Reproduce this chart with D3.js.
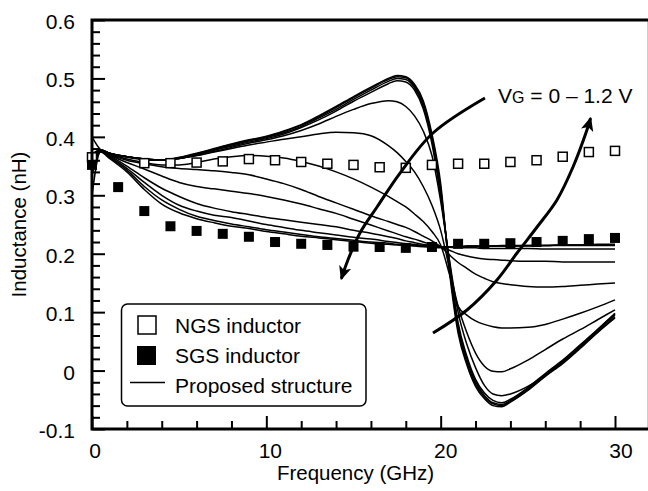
<!DOCTYPE html>
<html><head><meta charset="utf-8">
<script src="https://cdn.jsdelivr.net/npm/d3@7"></script>
<style>html,body{margin:0;padding:0;background:#fff}svg{display:block}text{font-family:Arial,"Liberation Sans",Helvetica,sans-serif;fill:#000}</style>
</head><body>
<svg id="c" width="648" height="491"></svg>
<script>
// ---------- data ----------
const ngsFreq = [0,3,4.5,6,7.5,9,10.5,12,13.5,15,16.5,18,19.5,21,22.5,24,25.5,27,28.5,30];
const ngs = [0.365,0.355,0.355,0.356,0.358,0.362,0.360,0.357,0.354,0.352,0.348,0.347,0.352,0.354,0.354,0.357,0.360,0.366,0.374,0.376];
const sgsFreq = [0,1.5,3,4.5,6,7.5,9,10.5,12,13.5,15,16.5,18,19.5,21,22.5,24,25.5,27,28.5,30];
const sgs = [0.352,0.314,0.273,0.247,0.239,0.234,0.229,0.220,0.217,0.215,0.212,0.2115,0.210,0.2115,0.217,0.217,0.218,0.220,0.222,0.225,0.227];

const freq = [0,0.5,1,2,3,4,5,6,7,8,9,10,11,12,13,14,15,16,17,17.5,18,18.5,19,19.5,20,20.5,21,21.5,22,22.5,23,23.5,24,25,26,27,28,29,30];
// Proposed structure, VG = 0 ... 1.2 V
const vg00 = [0.400,0.378,0.372,0.366,0.362,0.360,0.365,0.372,0.380,0.388,0.395,0.401,0.410,0.421,0.436,0.452,0.469,0.485,0.500,0.505,0.503,0.490,0.462,0.405,0.320,0.170,0.064,0.010,-0.027,-0.048,-0.060,-0.062,-0.054,-0.034,-0.010,0.012,0.038,0.065,0.090];
const vg01 = [0.370,0.378,0.372,0.366,0.362,0.360,0.364,0.371,0.379,0.387,0.394,0.400,0.409,0.420,0.434,0.450,0.467,0.483,0.498,0.503,0.501,0.487,0.458,0.400,0.312,0.176,0.070,0.015,-0.023,-0.045,-0.057,-0.060,-0.053,-0.033,-0.009,0.014,0.040,0.066,0.092];
const vg02 = [0.355,0.377,0.372,0.366,0.362,0.360,0.364,0.370,0.378,0.386,0.393,0.399,0.407,0.418,0.432,0.447,0.464,0.480,0.495,0.500,0.498,0.484,0.453,0.394,0.305,0.182,0.076,0.020,-0.019,-0.042,-0.055,-0.058,-0.051,-0.031,-0.007,0.016,0.042,0.068,0.095];
const vg03 = [0.300,0.376,0.372,0.366,0.362,0.360,0.363,0.369,0.377,0.384,0.391,0.397,0.405,0.416,0.429,0.444,0.461,0.476,0.491,0.496,0.494,0.480,0.448,0.388,0.298,0.188,0.082,0.025,-0.015,-0.038,-0.051,-0.055,-0.049,-0.029,-0.005,0.018,0.044,0.070,0.097];
const vg04 = [0.360,0.377,0.372,0.366,0.362,0.360,0.363,0.368,0.375,0.382,0.389,0.395,0.402,0.411,0.422,0.435,0.447,0.457,0.462,0.460,0.452,0.436,0.410,0.368,0.290,0.190,0.100,0.045,0.005,-0.025,-0.040,-0.043,-0.040,-0.027,-0.008,0.016,0.042,0.070,0.098];
const vg05 = [0.370,0.378,0.372,0.365,0.361,0.360,0.363,0.368,0.374,0.380,0.386,0.391,0.396,0.400,0.405,0.408,0.407,0.402,0.385,0.373,0.358,0.340,0.315,0.283,0.240,0.175,0.110,0.065,0.030,0.008,-0.001,-0.002,0.003,0.018,0.036,0.054,0.070,0.087,0.104];
const vg06 = [0.365,0.377,0.371,0.362,0.356,0.352,0.352,0.356,0.362,0.366,0.368,0.367,0.364,0.358,0.350,0.340,0.328,0.314,0.298,0.289,0.280,0.268,0.255,0.238,0.215,0.165,0.110,0.095,0.085,0.079,0.075,0.073,0.073,0.074,0.079,0.088,0.098,0.109,0.121];
const vg07 = [0.360,0.377,0.370,0.360,0.354,0.349,0.346,0.344,0.342,0.339,0.335,0.328,0.320,0.310,0.298,0.287,0.276,0.265,0.255,0.250,0.245,0.238,0.230,0.222,0.212,0.198,0.185,0.175,0.165,0.158,0.152,0.149,0.147,0.144,0.143,0.144,0.146,0.148,0.150];
const vg08 = [0.355,0.376,0.369,0.356,0.345,0.333,0.322,0.315,0.311,0.307,0.303,0.298,0.292,0.285,0.277,0.269,0.259,0.249,0.239,0.234,0.229,0.225,0.220,0.216,0.212,0.206,0.200,0.196,0.193,0.191,0.190,0.189,0.188,0.187,0.187,0.186,0.186,0.186,0.186];
const vg09 = [0.350,0.376,0.368,0.350,0.330,0.312,0.298,0.286,0.278,0.272,0.267,0.262,0.258,0.254,0.250,0.246,0.240,0.235,0.229,0.226,0.222,0.219,0.216,0.214,0.212,0.211,0.210,0.210,0.210,0.209,0.209,0.209,0.209,0.209,0.208,0.208,0.208,0.208,0.208];
const vg10 = [0.345,0.375,0.366,0.346,0.322,0.300,0.283,0.273,0.266,0.262,0.256,0.250,0.245,0.240,0.236,0.232,0.228,0.225,0.221,0.219,0.217,0.216,0.214,0.213,0.212,0.212,0.212,0.213,0.213,0.213,0.213,0.213,0.213,0.213,0.214,0.214,0.214,0.214,0.214];
const vg11 = [0.340,0.375,0.365,0.343,0.315,0.292,0.276,0.264,0.257,0.251,0.246,0.241,0.237,0.233,0.229,0.226,0.223,0.220,0.218,0.216,0.215,0.214,0.213,0.212,0.212,0.212,0.212,0.213,0.213,0.213,0.213,0.214,0.214,0.214,0.214,0.215,0.215,0.215,0.215];
const vg12 = [0.335,0.374,0.363,0.340,0.310,0.285,0.270,0.260,0.253,0.247,0.243,0.238,0.234,0.230,0.227,0.224,0.221,0.218,0.216,0.215,0.214,0.213,0.212,0.211,0.210,0.211,0.211,0.212,0.212,0.212,0.213,0.213,0.213,0.214,0.214,0.215,0.215,0.216,0.216];
const proposed = [vg00,vg01,vg02,vg03,vg04,vg05,vg06,vg07,vg08,vg09,vg10,vg11,vg12];

const yMajor = [-0.1,0,0.1,0.2,0.3,0.4,0.5,0.6];
const yMinor = [-0.08,-0.06,-0.04,-0.02,0.02,0.04,0.06,0.08,0.12,0.14,0.16,0.18,0.22,0.24,0.26,0.28,0.32,0.34,0.36,0.38,0.42,0.44,0.46,0.48,0.52,0.54,0.56,0.58];
const xMajor = [0,10,20,30];
const xMinor = [2,4,6,8,12,14,16,18,22,24,26,28];
const yTickLabels = ["-0.1","0","0.1","0.2","0.3","0.4","0.5","0.6"];
const legendLabels = ["NGS inductor","SGS inductor","Proposed structure"];
// annotation arrows, in data units (GHz, nH)
const arrowDown = [[22.54,0.4665],[19.56,0.4066],[17.67,0.3381],[16.35,0.280],[15.37,0.2355],[14.68,0.1892],[14.30,0.157]];
const arrowUp = [[19.56,0.0643],[21.51,0.1037],[23.23,0.155],[24.38,0.2012],[25.53,0.2457],[26.67,0.292],[27.59,0.3484],[28.39,0.4117],[28.60,0.432]];

// ---------- drawing ----------
const svg = d3.select("#c");
const x = d3.scaleLinear().domain([0,30]).range([92,615]);
const y = d3.scaleLinear().domain([-0.1,0.6]).range([429,20]);
const x0 = 92, x1 = 648, y0 = 429, y1 = 20;

// curves
const line = d3.line().x((d,i)=>x(freq[i])).y(d=>y(d)).curve(d3.curveMonotoneX);
svg.append("g").selectAll("path").data(proposed).join("path")
  .attr("d", d=>line(d)).attr("fill","none").attr("stroke","#000").attr("stroke-width",1.5);

// markers
svg.append("g").selectAll("rect").data(ngs).join("rect")
  .attr("x",(d,i)=>x(ngsFreq[i])-4.5).attr("y",d=>y(d)-4.5).attr("width",9).attr("height",9)
  .attr("fill","#fff").attr("stroke","#000").attr("stroke-width",1.5);
svg.append("g").selectAll("rect").data(sgs).join("rect")
  .attr("x",(d,i)=>x(sgsFreq[i])-5).attr("y",d=>y(d)-5).attr("width",10).attr("height",10)
  .attr("fill","#000");

// arrows
const defs = svg.append("defs");
defs.append("marker").attr("id","ah").attr("viewBox","0 0 10 10").attr("refX",9).attr("refY",5)
  .attr("markerWidth",14).attr("markerHeight",14).attr("markerUnits","userSpaceOnUse").attr("orient","auto")
  .append("path").attr("d","M0,0.5 L10,5 L0,9.5 L2.5,5 Z").attr("fill","#000");
const aline = d3.line().x(d=>x(d[0])).y(d=>y(d[1])).curve(d3.curveCatmullRom);
[arrowDown, arrowUp].forEach(a=>{
  svg.append("path").attr("d",aline(a)).attr("fill","none").attr("stroke","#000")
    .attr("stroke-width",3).attr("marker-end","url(#ah)");
});

// annotation text
const ann = svg.append("text").attr("x",498).attr("y",103).attr("font-size",21);
ann.append("tspan").text("V");
ann.append("tspan").attr("font-size",16).text("G");
ann.append("tspan").text(" = 0 \u2013 1.2 V");

// axes (ticks inward)
const gl = svg.append("g").attr("transform",`translate(${x0},0)`);
gl.call(d3.axisRight(y).tickValues(yMajor).tickSize(13).tickFormat(""));
gl.call(g=>g.select(".domain").remove());
const glm = svg.append("g").attr("transform",`translate(${x0},0)`);
glm.call(d3.axisRight(y).tickValues(yMinor).tickSize(8).tickFormat(""));
glm.call(g=>g.select(".domain").remove());
const gb = svg.append("g").attr("transform",`translate(0,${y0})`);
gb.call(d3.axisTop(x).tickValues(xMajor).tickSize(13).tickFormat(""));
gb.call(g=>g.select(".domain").remove());
const gbm = svg.append("g").attr("transform",`translate(0,${y0})`);
gbm.call(d3.axisTop(x).tickValues(xMinor).tickSize(8).tickFormat(""));
gbm.call(g=>g.select(".domain").remove());
svg.selectAll(".tick line").attr("stroke","#000").attr("stroke-width",2);

// frame
svg.append("line").attr("x1",x1-0.5).attr("x2",x1-0.5).attr("y1",y1).attr("y2",y0).attr("stroke","#ccc").attr("stroke-width",1);
svg.append("path").attr("d",`M${x1},${y1}H${x0}V${y0}H${x1}`).attr("fill","none").attr("stroke","#000").attr("stroke-width",3);

// tick labels
svg.append("g").selectAll("text").data(yMajor).join("text")
  .attr("x",75).attr("y",d=>y(d)+9).attr("text-anchor","end").attr("font-size",21)
  .text((d,i)=>yTickLabels[i]);
svg.append("g").selectAll("text").data(xMajor).join("text")
  .attr("x",d=>x(d)+3+d*0.1).attr("y",458).attr("text-anchor","middle").attr("font-size",21)
  .text(d=>d);

// axis titles
svg.append("text").attr("x",(x(0)+x(30))/2+2).attr("y",480).attr("text-anchor","middle").attr("font-size",20.5).text("Frequency (GHz)");
svg.append("text").attr("transform",`translate(26,${(y0+y1)/2}) rotate(-90)`).attr("text-anchor","middle").attr("font-size",20.5).text("Inductance (nH)");

// legend
const lg = svg.append("g");
lg.append("rect").attr("x",121.5).attr("y",304).attr("width",244.5).attr("height",102).attr("rx",6)
  .attr("fill","#fff").attr("stroke","#000").attr("stroke-width",1.5);
lg.append("rect").attr("x",138).attr("y",316).attr("width",18).attr("height",18).attr("fill","#fff").attr("stroke","#000").attr("stroke-width",1.5);
lg.append("rect").attr("x",137).attr("y",346).attr("width",19).attr("height",19).attr("fill","#000");
lg.append("line").attr("x1",130).attr("x2",165).attr("y1",382.5).attr("y2",382.5).attr("stroke","#000").attr("stroke-width",1.5);
lg.selectAll("text.l").data(legendLabels).join("text").attr("class","l")
  .attr("x",175).attr("y",(d,i)=>333+i*30).attr("font-size",21).text(d=>d);
</script>
</body></html>
